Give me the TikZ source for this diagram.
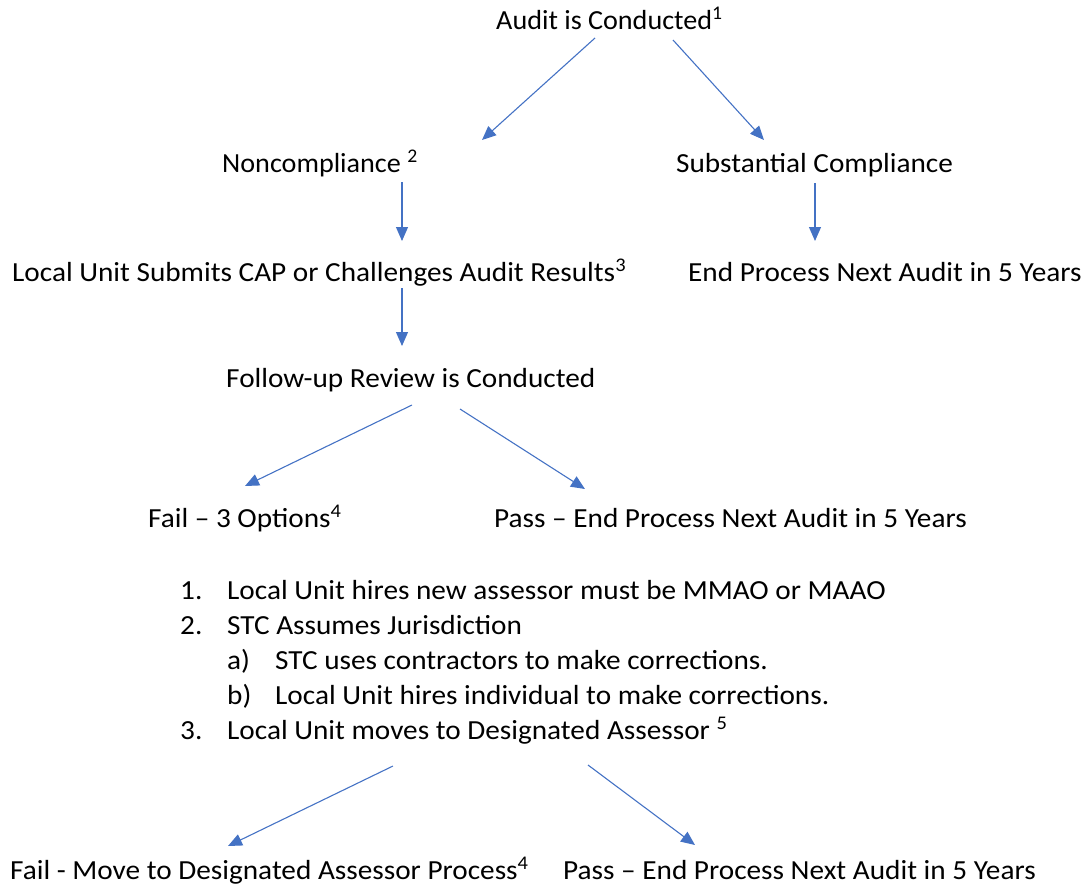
\documentclass[tikz,border=0pt]{standalone}
\usepackage{fontspec}
\setmainfont{Carlito}[FakeStretch=1.06]
\newfontfamily\narrowcal{Carlito}[FakeStretch=1.02]
\usetikzlibrary{arrows.meta}
\definecolor{arrowblue}{HTML}{4472C4}
\tikzset{
  lbl/.style={anchor=base west, inner sep=0pt, font=\fontsize{27.6}{33}\selectfont},
  lbln/.style={lbl, font=\fontsize{27.6}{33}\selectfont\narrowcal},
  flow/.style={draw=arrowblue, line width=1.1pt, -{Triangle[length=14pt,width=12pt]}, arrowblue}
}
\begin{document}
\begin{tikzpicture}[x=1pt,y=-1pt]
\useasboundingbox (0,0) rectangle (1084,892);
% texts
\node[lbln] (audit) at (496,29) {Audit is Conducted\textsuperscript{1}};
\node[lbln] (nonc) at (222,172) {Noncompliance \textsuperscript{2}};
\node[lbl] (subst) at (676,172) {Substantial Compliance};
\node[lbl] (cap) at (12,281) {Local Unit Submits CAP or Challenges Audit Results\textsuperscript{3}};
\node[lbl] (end1) at (688,281) {End Process Next Audit in 5 Years};
\node[lbl] (follow) at (226,387) {Follow-up Review is Conducted};
\node[lbl] (fail1) at (148,527) {Fail -- 3 Options\textsuperscript{4}};
\node[lbl] (pass1) at (494,527) {Pass -- End Process Next Audit in 5 Years};
\node[lbl] (n1) at (180,599) {1.};
\node[lbl] (t1) at (227,599) {Local Unit hires new assessor must be MMAO or MAAO};
\node[lbl] (n2) at (180,634) {2.};
\node[lbl] (t2) at (227,634) {STC Assumes Jurisdiction};
\node[lbl] (na) at (227,669) {a)};
\node[lbl] (ta) at (275,669) {STC uses contractors to make corrections.};
\node[lbl] (nb) at (227,704) {b)};
\node[lbl] (tb) at (275,704) {Local Unit hires individual to make corrections.};
\node[lbl] (n3) at (180,739) {3.};
\node[lbl] (t3) at (227,739) {Local Unit moves to Designated Assessor \textsuperscript{5}};
\node[lbl] (fail2) at (10,879) {Fail - Move to Designated Assessor Process\textsuperscript{4}};
\node[lbl] (pass2) at (563,879) {Pass -- End Process Next Audit in 5 Years};
% connector ends
\coordinate (a1s) at (595,38);  \coordinate (a1e) at (482,140);
\coordinate (a2s) at (673,40);  \coordinate (a2e) at (764,140);
\coordinate (a3s) at (402,182); \coordinate (a3e) at (402,241);
\coordinate (a4s) at (815,183); \coordinate (a4e) at (815,241);
\coordinate (a5s) at (402,288); \coordinate (a5e) at (402,346);
\coordinate (a6s) at (412,405); \coordinate (a6e) at (245,486);
\coordinate (a7s) at (460,409); \coordinate (a7e) at (585,489);
\coordinate (a8s) at (393,766); \coordinate (a8e) at (228,846);
\coordinate (a9s) at (588,765); \coordinate (a9e) at (695,845);
\foreach \i in {1,...,9} \draw[flow] (a\i s) -- (a\i e);
\end{tikzpicture}
\end{document}
